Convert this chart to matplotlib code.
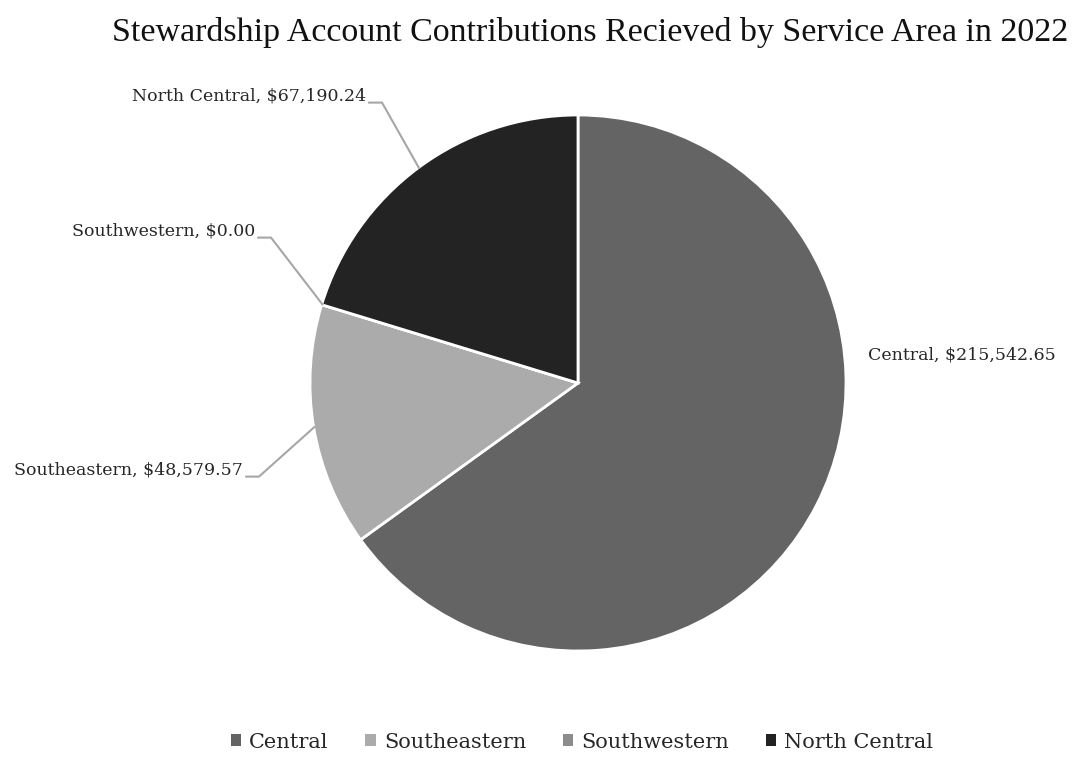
import numpy as np
import matplotlib
matplotlib.use("Agg")
import matplotlib.pyplot as plt
from matplotlib.patches import Patch

areas = ["Central", "Southeastern", "Southwestern", "North Central"]
amounts = [215542.65, 48579.57, 0.00, 67190.24]
colors = ["#646464", "#ababab", "#8c8c8c", "#232323"]
title = "Stewardship Account Contributions Recieved by Service Area in 2022"

plt.rcParams["font.family"] = ["DejaVu Serif", "Liberation Serif"]

W, H = 1075, 757
fig = plt.figure(figsize=(W / 100, H / 100), dpi=100)
cx, cy, r = 578, 383, 268
ax = fig.add_axes([(cx - r) / W, (H - cy - r) / H, 2 * r / W, 2 * r / H])

wedges, _ = ax.pie(amounts, colors=colors, startangle=90, counterclock=False,
                   radius=1, wedgeprops=dict(edgecolor="white", linewidth=2))
ax.set_xlim(-1, 1)
ax.set_ylim(-1, 1)
ax.axis("off")


def px(x, y):
    return ((x - cx) / r, (cy - y) / r)


def fmt(v):
    return f"${v:,.2f}"


# text end position in pixels, alignment, and whether a leader line is drawn
label_pos = {
    "Central": (868, 355, "left", False),
    "Southeastern": (243, 470, "right", True),
    "Southwestern": (255, 231, "right", True),
    "North Central": (366, 96, "right", True),
}
lc = "#a6a6a6"
for w, name, val in zip(wedges, areas, amounts):
    mid = np.deg2rad((w.theta1 + w.theta2) / 2)
    ex, ey = np.cos(mid), np.sin(mid)
    tx, ty, ha, leader = label_pos[name]
    x0, y0 = px(tx, ty)
    ax.text(x0, y0, f"{name}, {fmt(val)}", ha=ha, va="center", fontsize=12.5,
            color="#262626", clip_on=False)
    if leader:
        x1, _ = px(tx + 16, ty)
        yl = y0 - 22 / 268 * 0.3
        ax.plot([x0 + 0.008, x1, ex * 0.995], [yl, yl, ey * 0.995],
                color=lc, lw=1.5, clip_on=False, solid_capstyle="butt")

fig.text(590 / W, 1 - 32 / H, title, ha="center", va="center", fontsize=24.5,
         color="#111111", family="Liberation Serif")

handles = [Patch(facecolor=c, edgecolor="none") for c in colors]
fig.legend(handles, areas, loc="center", bbox_to_anchor=(582 / W, 1 - 742 / H),
           ncol=4, frameon=False, fontsize=15, handlelength=0.5, handleheight=0.5,
           handletextpad=0.4, columnspacing=1.75, labelcolor="#262626")

fig.savefig("out.png", dpi=100, facecolor="white")
